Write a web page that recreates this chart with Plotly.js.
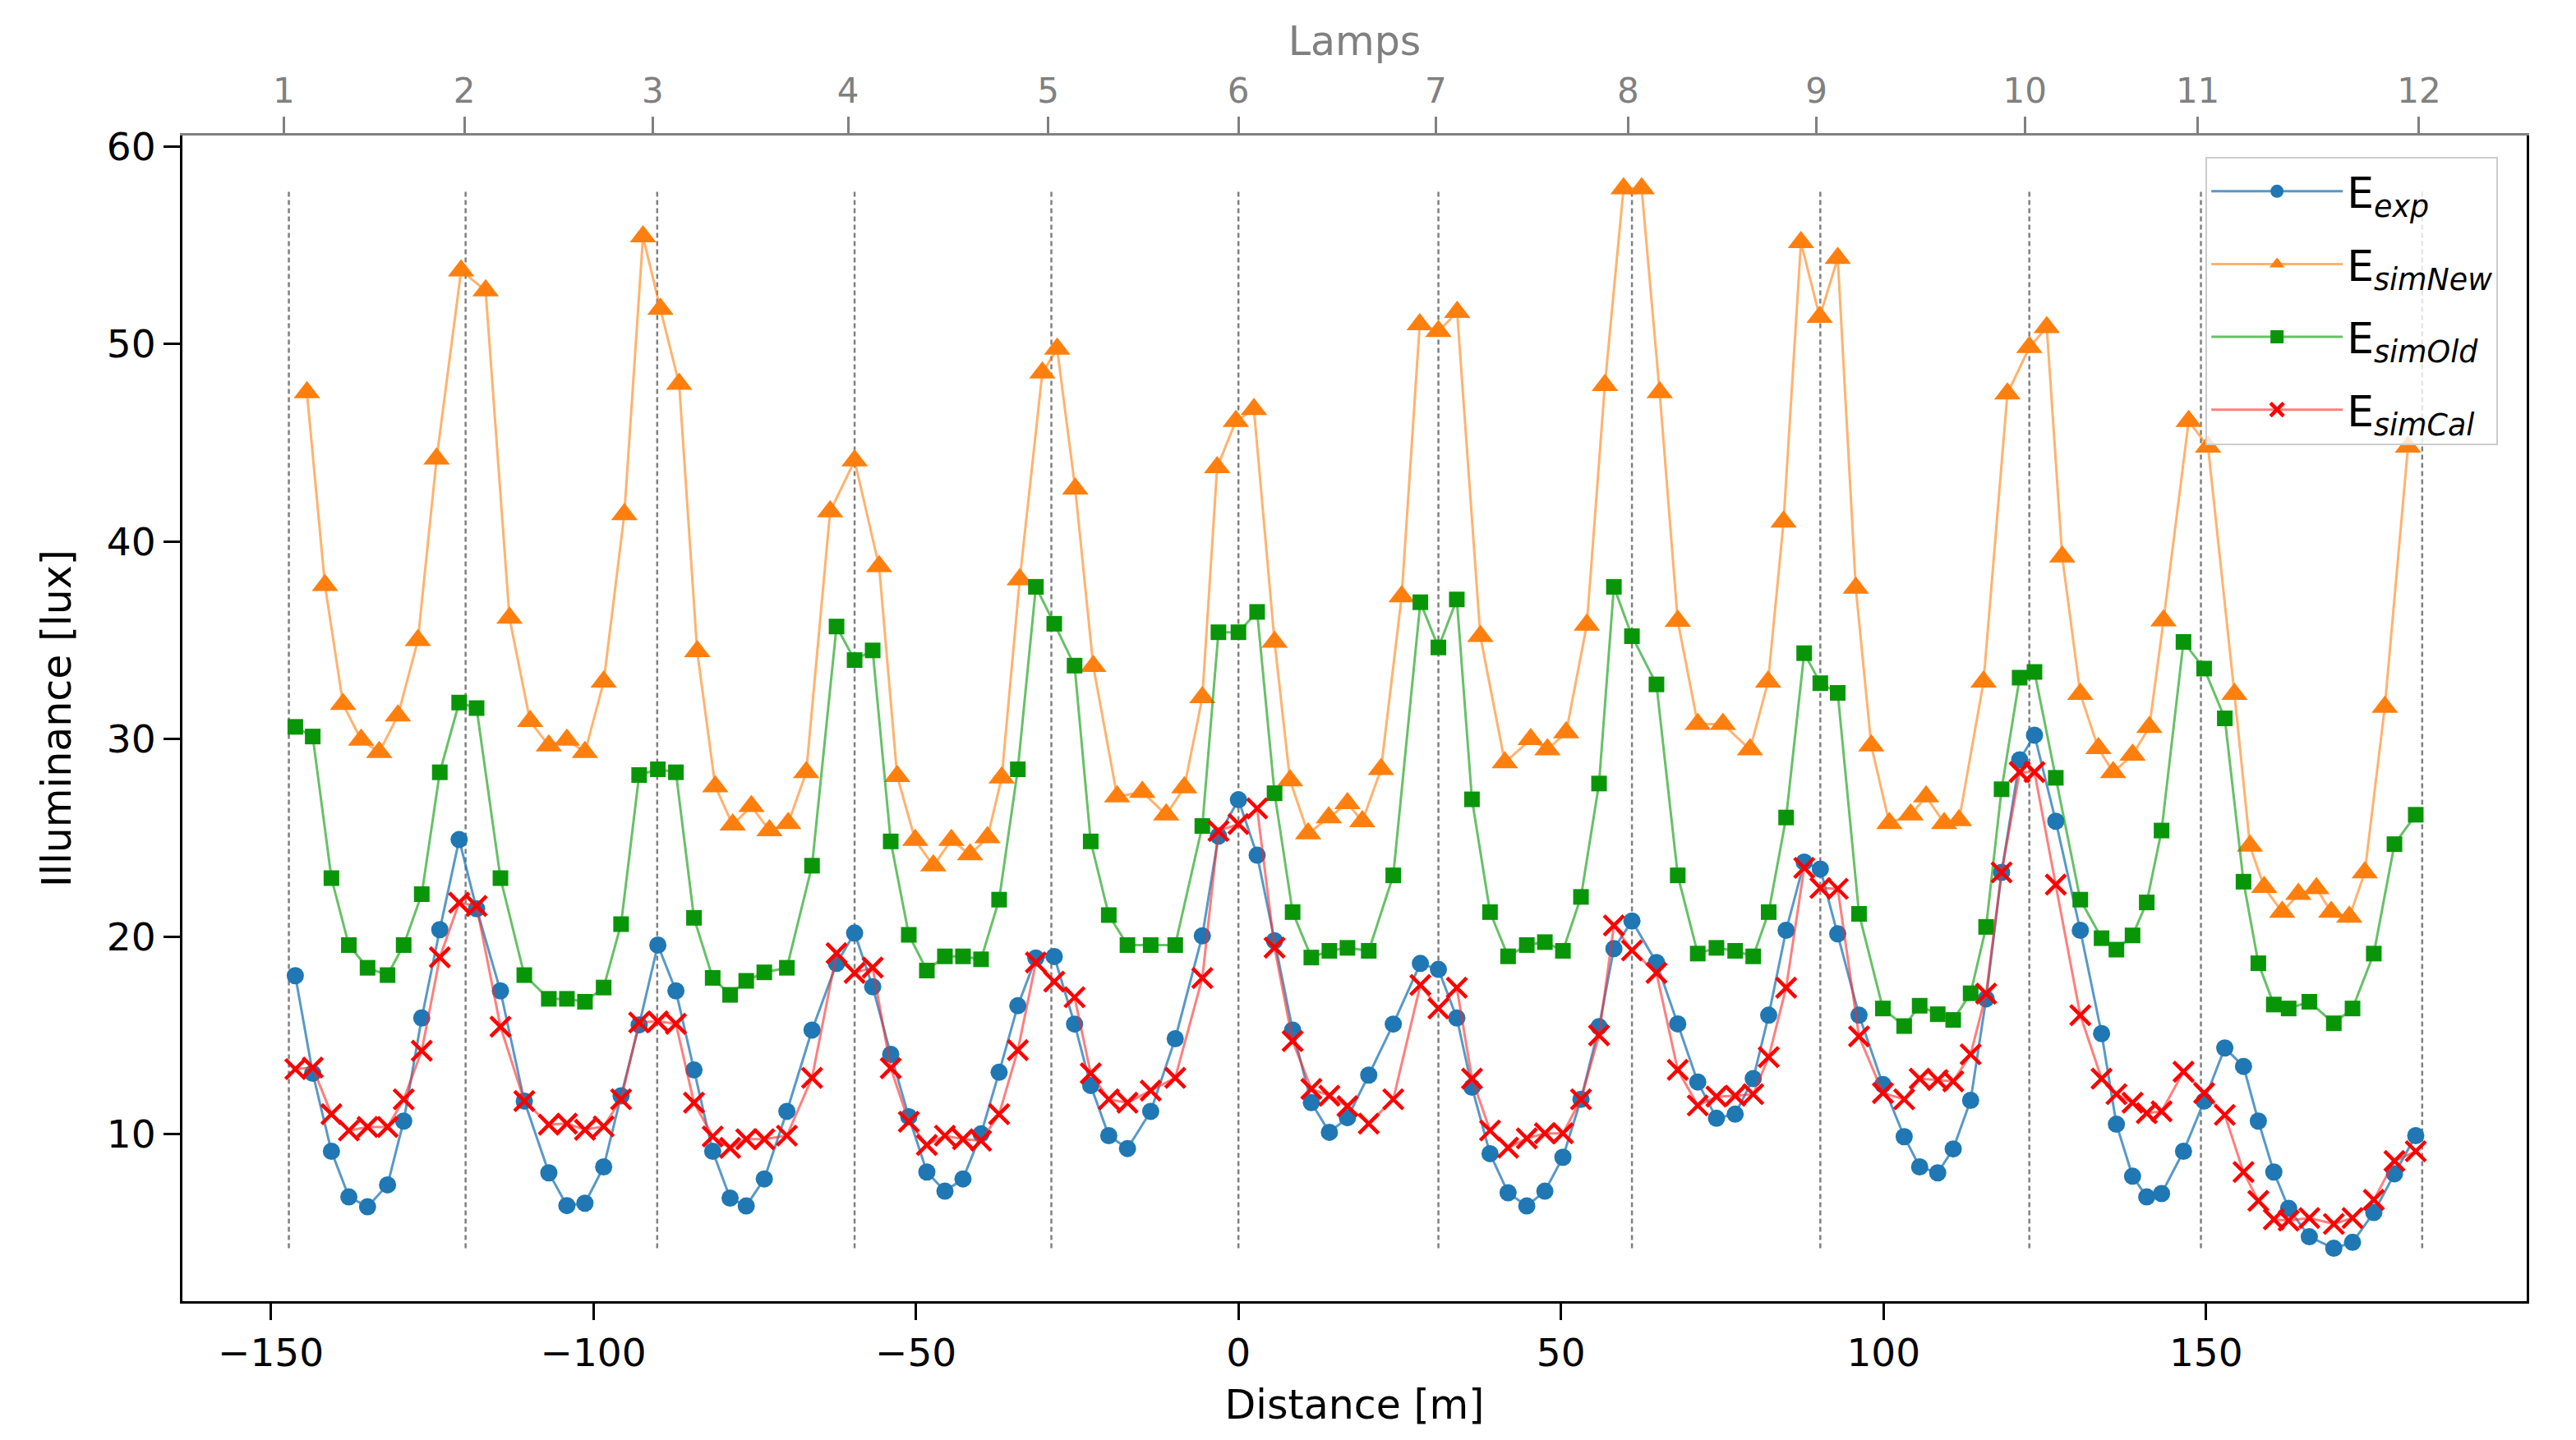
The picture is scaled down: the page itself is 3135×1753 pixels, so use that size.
<!DOCTYPE html>
<html>
<head>
<meta charset="utf-8">
<script src="https://cdn.plot.ly/plotly-3.0.1.min.js"></script>
<style>
body{margin:0;background:#fff;}
#chart{width:3135px;height:1753px;}
</style>
</head>
<body>
<div id="chart"></div>
<script>
// lamp positions (dashed lines) and top axis ticks
var lampPos=[-147.2,-119.8,-90.1,-59.5,-29.0,0.0,31.0,61.0,90.2,122.6,149.2,183.5];
var lampTick=[-148,-120,-90.8,-60.5,-29.5,0,30.6,60.4,89.6,121.9,148.7,183];
var lampText=['1','2','3','4','5','6','7','8','9','10','11','12'];

// measurement points (E_exp, E_simOld, E_simCal)
var xMeas=[-146.2,-143.5,-140.6,-137.9,-135.0,-131.9,-129.4,-126.6,-123.8,-120.8,-118.1,-114.4,-110.7,-106.9,-104.1,-101.3,-98.4,-95.7,-92.9,-90.0,-87.2,-84.4,-81.5,-78.8,
	-76.3,-73.5,-70.0,-66.1,-62.3,-59.5,-56.7,-53.9,-51.1,-48.3,-45.5,-42.7,-39.9,-37.1,-34.2,-31.4,-28.55,-25.4,-22.9,-20.1,-17.2,-13.6,-9.8,-5.6,
	-3.1,0.0,2.9,5.6,8.4,11.3,14.1,16.9,20.2,24.0,28.2,31.0,33.85,36.2,39.0,41.8,44.7,47.5,50.3,53.1,55.9,58.2,61.0,64.8,68.1,
	71.2,74.1,77.0,79.8,82.2,84.9,87.7,90.2,92.9,96.2,99.9,103.2,105.6,108.4,110.8,113.5,115.9,118.3,121.1,123.4,126.7,130.5,133.8,136.1,138.6,140.8,143.1,
	146.5,149.7,152.9,155.8,158.1,160.5,162.8,166.0,169.8,172.7,176.0,179.2,182.5];
var eExp=[18.02,13.08,9.13,6.82,6.32,7.43,10.66,15.88,20.35,24.91,21.41,17.25,11.67,8.04,6.38,6.5,8.34,11.94,15.53,19.57,17.25,13.25,9.13,6.76,
	6.36,7.73,11.15,15.27,18.64,20.18,17.46,14.04,10.88,8.08,7.11,7.73,10.01,13.13,16.5,18.92,18.99,15.57,12.46,9.92,9.27,11.15,14.83,20.04,
	25.09,26.93,24.12,19.79,15.27,11.59,10.09,10.83,12.99,15.57,18.64,18.34,15.88,12.37,9.01,7.03,6.36,7.11,8.83,11.76,15.44,19.39,20.79,18.69,15.58,
	12.64,10.8,11.01,12.81,16.02,20.32,23.77,23.42,20.14,16.02,12.51,9.87,8.34,8.04,9.25,11.71,16.85,23.25,28.95,30.2,25.84,20.32,15.09,10.5,7.87,6.82,6.99,
	9.13,11.67,14.36,13.43,10.66,8.08,6.24,4.8,4.22,4.52,6.03,7.99,9.92];
var eSimOld=[30.62,30.13,22.96,19.57,18.42,18.05,19.57,22.15,28.32,31.85,31.57,22.96,18.05,16.85,16.85,16.7,17.42,20.63,28.18,28.47,28.32,20.95,17.91,17.05,
	17.76,18.19,18.42,23.59,35.7,34.0,34.49,24.82,20.09,18.28,19.0,19.0,18.85,21.87,28.47,37.71,35.84,33.72,24.82,21.09,19.57,19.57,19.57,25.6,
	35.41,35.41,36.44,27.26,21.24,18.94,19.28,19.43,19.28,23.1,36.93,34.64,37.07,26.95,21.24,19.0,19.57,19.72,19.28,22.01,27.75,37.71,35.21,32.77,23.1,
	19.14,19.43,19.28,19.0,21.24,26.03,34.35,32.83,32.34,21.15,16.36,15.47,16.5,16.07,15.78,17.13,20.49,27.46,33.11,33.4,28.04,21.87,19.92,19.34,20.06,21.73,25.37,
	34.92,33.57,31.05,22.78,18.65,16.56,16.36,16.7,15.61,16.36,19.14,24.68,26.17];
var eSimCal=[13.29,13.37,11.01,10.18,10.36,10.36,11.76,14.22,18.95,21.72,21.55,15.44,11.67,10.48,10.53,10.22,10.39,11.76,15.65,15.71,15.58,11.59,9.88,9.3,
	9.74,9.74,9.92,12.85,19.16,18.16,18.43,13.34,10.62,9.45,9.92,9.74,9.66,11.01,14.25,18.69,17.72,16.93,13.08,11.76,11.59,12.2,12.85,17.9,
	25.35,25.7,26.49,19.44,14.71,12.29,11.94,11.41,10.53,11.76,17.55,16.36,17.41,12.81,10.18,9.31,9.78,10.04,10.04,11.76,15.0,20.56,19.3,18.16,13.25,
	11.45,11.9,11.94,12.02,13.9,17.41,23.48,22.46,22.42,14.95,12.08,11.76,12.81,12.73,12.67,14.04,17.11,23.25,28.33,28.33,22.63,16.02,12.81,12.02,11.59,11.06,11.15,
	13.16,12.08,10.97,8.08,6.62,5.68,5.62,5.75,5.45,5.75,6.67,8.64,9.13];

// new simulation grid (E_simNew)
var xNew=[-144.4,-141.6,-138.8,-136.0,-133.2,-130.3,-127.2,-124.3,-120.5,-116.7,-113.0,-109.8,-106.9,-104.1,-101.3,-98.4,-95.2,-92.3,-89.6,-86.7,-83.9,-81.1,-78.4,
	-75.5,-72.7,-69.8,-67.0,-63.3,-59.5,-55.7,-52.9,-50.1,-47.3,-44.5,-41.6,-38.9,-36.7,-33.9,-30.4,-28.1,-25.3,-22.5,-18.8,-14.9,-11.2,-8.4,-5.6,
	-3.3,-0.4,2.4,5.6,8.0,10.8,14.0,16.9,19.2,22.1,25.3,28.1,31.0,33.9,37.5,41.3,45.3,47.9,50.8,54.0,56.8,59.7,62.5,65.3,68.1,
	71.2,75.1,79.3,82.1,84.5,87.2,90.1,92.9,95.7,98.1,100.9,104.2,106.6,109.4,111.7,115.5,119.2,122.6,125.3,127.7,130.5,133.3,135.6,138.6,141.2,143.4,
	147.3,150.3,154.4,156.8,159.0,161.8,164.3,167.1,169.4,172.2,174.6,177.7,181.3];
var eSimNew=[47.55,37.79,31.77,29.96,29.33,31.19,35.0,44.19,53.72,52.71,36.13,30.9,29.67,29.96,29.33,32.9,41.38,55.44,51.77,47.98,34.44,27.6,25.66,
	26.6,25.37,25.74,28.32,41.52,44.1,38.74,28.12,24.88,23.59,24.88,24.16,25.02,28.04,38.08,48.55,49.76,42.67,33.69,27.09,27.32,26.17,27.55,32.11,
	43.76,46.1,46.7,34.92,27.9,25.22,26.03,26.75,25.83,28.47,37.22,50.99,50.65,51.62,35.21,28.81,29.99,29.47,30.33,35.78,47.92,57.88,57.88,47.55,35.98,
	30.76,30.76,29.47,32.9,41.0,55.15,51.37,54.35,37.65,29.67,25.74,26.17,27.09,25.74,25.88,32.9,47.49,49.84,50.85,39.23,32.28,29.53,28.32,29.2,30.6,36.0,
	46.1,44.8,32.28,24.59,22.5,21.24,22.15,22.44,21.24,21.0,23.24,31.62,44.8];

function disp_lamps(chartname)
{
	var FONT='DejaVu Sans';
	var allY=eExp.concat(eSimOld,eSimCal,eSimNew);
	var yLo=Math.min(...allY);
	var yHi=Math.max(...allY);

	//虛線: 每盞燈一條
	var shapes=[];
	for (var i = 0; i < lampPos.length; i++){
		shapes.push({
			type:'line', xref:'x', yref:'y',
			x0:lampPos[i], x1:lampPos[i], y0:yLo, y1:yHi,
			line:{color:'rgb(128,128,128)', width:2.5, dash:'6px,4px'},
			layer:'below'
		});
	};

	var traceExp = {
	  x: xMeas, y: eExp, type:'scatter', mode:'lines+markers',
	  name: 'E<sub><i>exp</i></sub>', legendgroup:'a',
	  line: {color:'rgba(31,119,180,0.75)', width:3},
	  marker: {symbol:'circle', size:21, color:'rgb(31,119,180)'}
	};
	var traceNew = {
	  x: xNew, y: eSimNew, type:'scatter', mode:'lines+markers',
	  name: 'E<sub><i>simNew</i></sub>', legendgroup:'b',
	  line: {color:'rgba(255,127,14,0.6)', width:3},
	  marker: {symbol:'triangle-up', size:28, color:'rgb(255,127,14)'}
	};
	var traceOld = {
	  x: xMeas, y: eSimOld, type:'scatter', mode:'lines+markers',
	  name: 'E<sub><i>simOld</i></sub>', legendgroup:'c',
	  line: {color:'rgba(20,160,20,0.65)', width:3},
	  marker: {symbol:'square', size:19, color:'rgb(8,150,8)'}
	};
	var traceCal = {
	  x: xMeas, y: eSimCal, type:'scatter', mode:'lines+markers',
	  name: 'E<sub><i>simCal</i></sub>', legendgroup:'d',
	  line: {color:'rgba(255,40,40,0.6)', width:3},
	  marker: {symbol:'x-thin', size:24, color:'rgb(255,0,0)', line:{color:'rgb(255,0,0)', width:4.5}}
	};
	var data = [traceExp, traceNew, traceOld, traceCal];

	var layout = {
		width:3135, height:1753,
		margin:{l:222, r:60, t:165, b:169},
		paper_bgcolor:'#fff', plot_bgcolor:'#fff',
		font:{family:FONT, size:47, color:'#000'},
		showlegend:true,
		xaxis: {
			range:[-163.7,199.7], dtick:50, tick0:0,
			showgrid:false, zeroline:false,
			showline:true, linecolor:'#000', linewidth:3, mirror:false,
			ticks:'outside', ticklen:20, tickwidth:3, tickcolor:'#000',
			tickfont:{family:FONT, size:47, color:'#000'},
			title:{text:'Distance [m]', standoff:20, font:{family:FONT, size:49, color:'#000'}}
		},
		xaxis2: {
			overlaying:'x', side:'top', anchor:'y',
			range:[-163.7,199.7],
			tickmode:'array', tickvals:lampTick, ticktext:lampText,
			showgrid:false, zeroline:false,
			showline:true, linecolor:'rgb(128,128,128)', linewidth:3,
			ticks:'outside', ticklen:20, tickwidth:3, tickcolor:'rgb(128,128,128)',
			tickfont:{family:FONT, size:42, color:'rgb(128,128,128)'},
			title:{text:'Lamps', standoff:4, font:{family:FONT, size:49, color:'rgb(128,128,128)'}}
		},
		yaxis: {
			range:[1.54,60.56], dtick:10, tick0:0,
			showgrid:false, zeroline:false,
			showline:true, linecolor:'#000', linewidth:3, mirror:true,
			ticks:'outside', ticklen:20, tickwidth:3, tickcolor:'#000',
			tickfont:{family:FONT, size:47, color:'#000'},
			title:{text:'Illuminance [lux]', standoff:28, font:{family:FONT, size:49, color:'#000'}}
		},
		legend: {
			x:0.863, y:0.982, xanchor:'left', yanchor:'top',
			bgcolor:'rgba(255,255,255,0.8)', bordercolor:'#cccccc', borderwidth:2,
			font:{family:FONT, size:52, color:'#000'},
			itemwidth:160, tracegroupgap:18
		},
		shapes:shapes
	};

	//第二條x軸需要一條看不見的資料
	data.push({x:[lampTick[0]], y:[yLo], xaxis:'x2', yaxis:'y', mode:'markers',
		marker:{opacity:0}, showlegend:false, hoverinfo:'skip'});

	Plotly.newPlot(document.getElementById(chartname), data, layout, {staticPlot:true});
}
disp_lamps('chart');
</script>
</body>
</html>
